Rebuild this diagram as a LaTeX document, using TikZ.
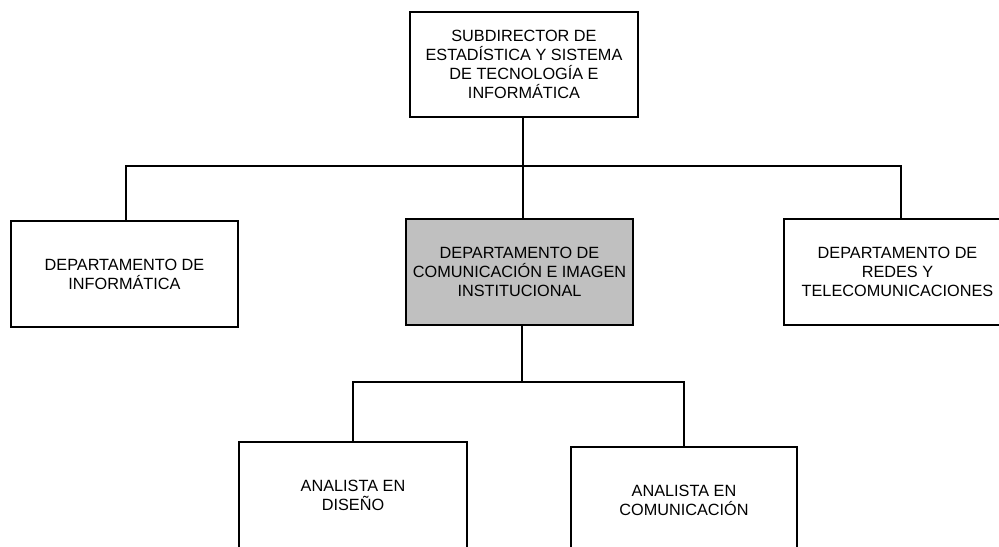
\documentclass[tikz,border=0pt]{standalone}
\usepackage{fontspec}
\setmainfont{Liberation Sans}
\begin{document}
\begin{tikzpicture}[x=0.75pt,y=-0.75pt,
  box/.style={draw=black,line width=1.6pt,rectangle,inner sep=0pt,align=center,
    font=\fontsize{12.2}{14.1}\selectfont,minimum width=170.5pt,minimum height=79.3pt},
  conn/.style={draw=black,line width=1.3pt}]
\useasboundingbox (0,0) rectangle (999,546);
\clip (0,0) rectangle (999,546);
\fill[white] (0,0) rectangle (999,546);
\node[box,minimum width=171pt,minimum height=78.75pt] (top) at (524,64.5)
  {SUBDIRECTOR DE\\ESTADÍSTICA Y SISTEMA\\DE TECNOLOGÍA E\\INFORMÁTICA};
\node[box] (inf) at (124.5,274) {DEPARTAMENTO DE\\INFORMÁTICA};
\node[box,fill={rgb,255:red,192;green,192;blue,192}] (com) at (519.5,272)
  {DEPARTAMENTO DE\\COMUNICACIÓN E IMAGEN\\INSTITUCIONAL};
\node[box] (red) at (897.5,272) {DEPARTAMENTO DE\\REDES Y\\TELECOMUNICACIONES};
\node[box,minimum width=171pt] (dis) at (353,495) {ANALISTA EN\\DISEÑO};
\node[box,minimum width=169.5pt] (acom) at (684,500) {ANALISTA EN\\COMUNICACIÓN};
\coordinate (t1) at (523,117);
\coordinate (bus1) at (523,166);
\coordinate (j1) at (126,166);
\coordinate (j2) at (901,166);
\coordinate (m1) at (522,325);
\coordinate (bus2) at (522,382);
\draw[conn] (t1) -- (t1 |- com.north);
\draw[conn] (j1 |- inf.north) -- (j1) -- (j2) -- (j2 |- red.north);
\draw[conn] (m1) -- (bus2);
\draw[conn] (dis.north) |- (bus2) -| (acom.north);
\end{tikzpicture}
\end{document}
